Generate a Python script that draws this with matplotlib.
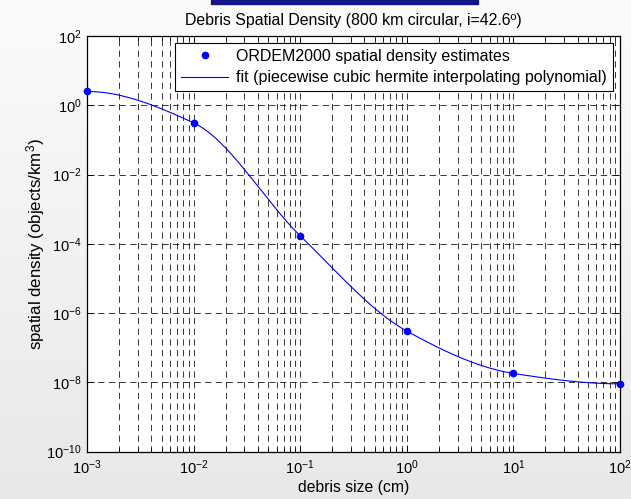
import numpy as np
import matplotlib
matplotlib.use("Agg")
import matplotlib.pyplot as plt
from matplotlib.ticker import LogLocator, FixedLocator

# ORDEM2000 estimates
debris_size = [1e-3, 1e-2, 1e-1, 1e0, 1e1, 1e2]
density = [2.5, 0.31, 1.7e-4, 3.0e-7, 1.8e-8, 9.0e-9]

x_ticks = [1e-3, 1e-2, 1e-1, 1e0, 1e1, 1e2]
y_ticks = [1e-10, 1e-8, 1e-6, 1e-4, 1e-2, 1e0, 1e2]

title = "Debris Spatial Density (800 km circular, i=42.6º)"
legend_labels = ["ORDEM2000 spatial density estimates",
                 "fit (piecewise cubic hermite interpolating polynomial)"]


def pchip(x, y, xq):
    # Fritsch-Carlson monotone cubic hermite, same as MATLAB pchip
    x = np.asarray(x, float)
    y = np.asarray(y, float)
    h = np.diff(x)
    delta = np.diff(y) / h
    n = len(x)
    d = np.zeros(n)
    for k in range(1, n - 1):
        if delta[k - 1] * delta[k] > 0:
            w1 = 2 * h[k] + h[k - 1]
            w2 = h[k] + 2 * h[k - 1]
            d[k] = (w1 + w2) / (w1 / delta[k - 1] + w2 / delta[k])
    def end_slope(h0, h1, d0, d1):
        s = ((2 * h0 + h1) * d0 - h0 * d1) / (h0 + h1)
        if np.sign(s) != np.sign(d0):
            s = 0.0
        elif np.sign(d0) != np.sign(d1) and abs(s) > abs(3 * d0):
            s = 3 * d0
        return s
    d[0] = end_slope(h[0], h[1], delta[0], delta[1])
    d[-1] = end_slope(h[-1], h[-2], delta[-1], delta[-2])
    idx = np.clip(np.searchsorted(x, xq) - 1, 0, n - 2)
    t = (xq - x[idx]) / h[idx]
    h00 = 2 * t**3 - 3 * t**2 + 1
    h10 = t**3 - 2 * t**2 + t
    h01 = -2 * t**3 + 3 * t**2
    h11 = t**3 - t**2
    return (h00 * y[idx] + h10 * h[idx] * d[idx]
            + h01 * y[idx + 1] + h11 * h[idx] * d[idx + 1])


plt.rcParams["font.family"] = ["Liberation Sans", "DejaVu Sans"]
plt.rcParams["mathtext.fontset"] = "custom"
plt.rcParams["mathtext.rm"] = "Liberation Sans"
plt.rcParams["mathtext.it"] = "Liberation Sans:italic"
plt.rcParams["lines.scale_dashes"] = False

fig = plt.figure(figsize=(6.31, 4.99), dpi=100)

# slide background with light gradient and the blue bar on top
bg = fig.add_axes([0, 0, 1, 1], zorder=-10)
grad = np.linspace(0, 1, 256).reshape(-1, 1)
bg.imshow(grad, aspect="auto", cmap=matplotlib.colors.LinearSegmentedColormap.from_list(
    "bg", ["#fbfbfb", "#e8e8e8"]), extent=[0, 1, 0, 1], origin="upper")
bg.add_patch(plt.Rectangle((211 / 631, 1 - 3.5 / 499), 267 / 631, 3.5 / 499,
                           color="#15158a", transform=bg.transAxes))
bg.set_xlim(0, 1)
bg.set_ylim(0, 1)
bg.axis("off")

ax = fig.add_axes([87 / 631, 1 - 451.5 / 499, 533 / 631, 415.5 / 499])
ax.set_facecolor("white")

lx = np.log10(debris_size)
ly = np.log10(density)
xq = np.linspace(lx[0], lx[-1], 400)
fit = 10 ** pchip(lx, ly, xq)

pts, = ax.loglog(debris_size, density, "o", color="#0000ff", markersize=4.5,
                 linestyle="none", clip_on=False, zorder=5)
line, = ax.loglog(10 ** xq, fit, "-", color="#0000ff", linewidth=0.8, zorder=4)

ax.set_xlim(1e-3, 1e2)
ax.set_ylim(1e-10, 1e2)
ax.xaxis.set_major_locator(FixedLocator(x_ticks))
ax.xaxis.set_minor_locator(LogLocator(base=10, subs=np.arange(2, 10), numticks=20))
ax.yaxis.set_major_locator(FixedLocator(y_ticks))
ax.yaxis.set_minor_locator(FixedLocator([]))

dash = (0, (4.5, 3.2))
ax.grid(True, which="major", axis="both", color="black", linewidth=0.55, linestyle=dash)
ax.grid(True, which="minor", axis="x", color="black", linewidth=0.55, linestyle=dash)
ax.set_axisbelow(True)

ax.tick_params(which="both", direction="in", top=True, right=True, labelsize=10.5,
               width=0.6, colors="black")
ax.tick_params(which="major", length=5)
ax.tick_params(which="minor", length=3)
ax.tick_params(axis="x", pad=5)
ax.tick_params(axis="y", pad=4)
for s in ax.spines.values():
    s.set_linewidth(0.9)

ax.set_title(title, fontsize=11.4, pad=8)
ax.set_xlabel("debris size (cm)", fontsize=11.3, labelpad=2)
ax.set_ylabel("spatial density (objects/km$^3$)", fontsize=12.2, labelpad=-1)

leg = ax.legend([pts, line], legend_labels, loc="upper right", fontsize=11.5,
                numpoints=1, handlelength=3.0, handletextpad=0.5,
                borderaxespad=0.45, fancybox=False, framealpha=1,
                borderpad=0.35, labelspacing=0.4)
leg.get_frame().set_edgecolor("black")
leg.get_frame().set_linewidth(0.8)

fig.savefig("out.png", dpi=100)
